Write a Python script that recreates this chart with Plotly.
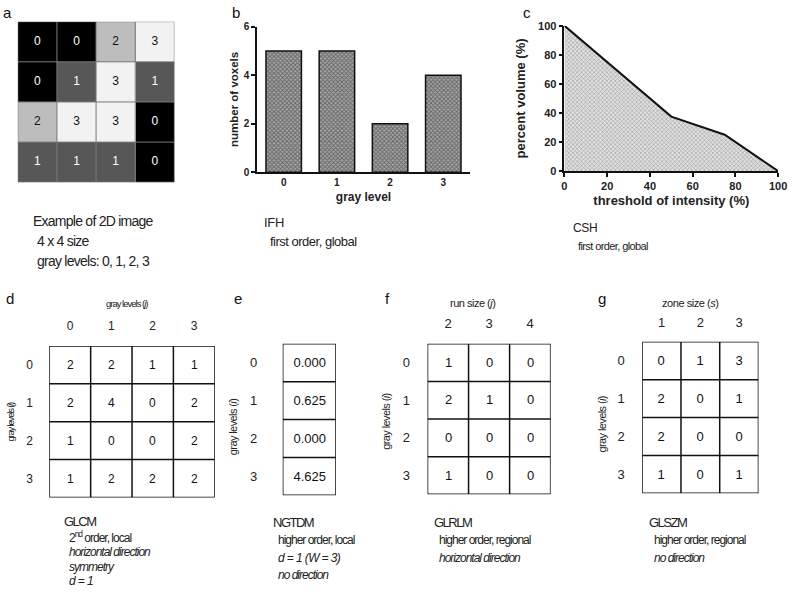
import plotly.graph_objects as go

# ---------------- data ----------------
# panel a: 4x4 example image (rows top -> bottom)
IMAGE = [[0, 0, 2, 3],
         [0, 1, 3, 1],
         [2, 3, 3, 0],
         [1, 1, 1, 0]]
GRAY_COLORS = ['#000000', '#575757', '#bdbdbd', '#f2f2f2']

# panel b: intensity frequency histogram
IFH_LEVELS = [0, 1, 2, 3]
IFH_COUNTS = [5, 5, 2, 4]

# panel c: cumulative intensity-volume histogram
CSH_THRESHOLD = [0, 25, 50, 75, 100]
CSH_VOLUME = [100, 68.75, 37.5, 25, 0]

# panel d: GLCM
GLCM_ROWS = ['0', '1', '2', '3']
GLCM_COLS = ['0', '1', '2', '3']
GLCM = [[2, 2, 1, 1],
        [2, 4, 0, 2],
        [1, 0, 0, 2],
        [1, 2, 2, 2]]

# panel e: NGTDM
NGTDM_ROWS = ['0', '1', '2', '3']
NGTDM = [['0.000'], ['0.625'], ['0.000'], ['4.625']]

# panel f: GLRLM
GLRLM_ROWS = ['0', '1', '2', '3']
GLRLM_COLS = ['2', '3', '4']
GLRLM = [[1, 0, 0],
         [2, 1, 0],
         [0, 0, 0],
         [1, 0, 0]]

# panel g: GLSZM
GLSZM_ROWS = ['0', '1', '2', '3']
GLSZM_COLS = ['1', '2', '3']
GLSZM = [[0, 1, 3],
         [2, 0, 1],
         [2, 0, 0],
         [1, 0, 1]]

# ---------------- helpers ----------------
W, H = 798, 592
FONT = 'Liberation Sans, Arial, sans-serif'
# vertical correction measured for the page capture (top offset, scale)
Y_OFF, Y_SCALE = 8.5, 0.97


def Y(v):
    return (v - Y_OFF) / Y_SCALE


def xd(a, b):
    return [a / W, b / W]


def yd(top, bottom):
    return [1 - Y(bottom) / H, 1 - Y(top) / H]


def sp(text, ls):
    return f'<span style="letter-spacing:{ls}px">{text}</span>'


fig = go.Figure()
shapes = []
annotations = []


def note(x, y, text, size, ls=0.0, italic=False, anchor='left', angle=0, color='#222'):
    t = sp(text, ls) if ls else text
    if italic:
        t = f'<i>{t}</i>'
    yy = min(max(Y(y), size * 0.45), H - size * 0.45)
    annotations.append(dict(x=x / W, y=1 - yy / H, xref='paper', yref='paper',
                            text=t, showarrow=False, xanchor=anchor, yanchor='middle',
                            textangle=angle, borderpad=0,
                            font=dict(family=FONT, size=size, color=color)))


def grid(ax, nrows, ncols, color, width):
    xr, yr = 'x' + ax, 'y' + ax
    for k in range(ncols + 1):
        shapes.append(dict(type='line', xref=xr, yref=yr, x0=k - 0.5, x1=k - 0.5,
                           y0=-0.5, y1=nrows - 0.5, line=dict(color=color, width=width),
                           layer='above'))
    for k in range(nrows + 1):
        shapes.append(dict(type='line', xref=xr, yref=yr, y0=k - 0.5, y1=k - 0.5,
                           x0=-0.5, x1=ncols - 0.5, line=dict(color=color, width=width),
                           layer='above'))


layout_axes = {}

# ---------------- panel a ----------------
nr, nc = len(IMAGE), len(IMAGE[0])
cs = []
for i, c in enumerate(GRAY_COLORS):
    cs += [[i / len(GRAY_COLORS), c], [(i + 1) / len(GRAY_COLORS), c]]
fig.add_trace(go.Heatmap(z=IMAGE, x=list(range(nc)), y=list(range(nr)),
                         colorscale=cs, zmin=-0.5, zmax=len(GRAY_COLORS) - 0.5,
                         showscale=False, hoverinfo='skip', xaxis='x', yaxis='y'))
cx, cy, ct, cc = [], [], [], []
for r in range(nr):
    for c in range(nc):
        v = IMAGE[r][c]
        cx.append(c)
        cy.append(r)
        ct.append(str(v))
        cc.append('#ffffff' if v < 2 else '#111111')
fig.add_trace(go.Scatter(x=cx, y=cy, text=ct, mode='text', xaxis='x', yaxis='y',
                         textfont=dict(family=FONT, size=12, color=cc), hoverinfo='skip'))
layout_axes['xaxis'] = dict(domain=xd(15, 174), range=[-0.5, nc - 0.5], visible=False)
layout_axes['yaxis'] = dict(domain=yd(24, 183), range=[nr - 0.5, -0.5], visible=False)
grid('', nr, nc, '#7a7a7a', 1)
note(5, 12, 'a', 15, anchor='center', color='#111')
note(29, 221, 'Example of 2D image', 14, -0.75)
note(34, 241, '4 x 4 size', 14, -0.75)
note(34, 261, 'gray levels: 0, 1, 2, 3', 14, -0.75)

# ---------------- panel b ----------------
fig.add_trace(go.Bar(x=IFH_LEVELS, y=IFH_COUNTS, width=0.667, xaxis='x2', yaxis='y2',
                     marker=dict(color='#8c8c8c', line=dict(color='#111', width=1.5),
                                 pattern=dict(shape='x', size=3, solidity=0.5,
                                              fgcolor='#222', bgcolor='#a6a6a6')),
                     hoverinfo='skip'))
bold = dict(family=FONT, weight='bold', color='#222')
layout_axes['xaxis2'] = dict(domain=xd(258, 474), range=[-0.5, 3.5], anchor='y2',
                             tickvals=IFH_LEVELS, ticks='', showgrid=False, zeroline=False,
                             showline=True, linecolor='#111', linewidth=1.5,
                             tickfont=dict(bold, size=10),
                             title=dict(text='gray level', font=dict(bold, size=12), standoff=6))
layout_axes['yaxis2'] = dict(domain=yd(29, 173), range=[0, 6], dtick=2, anchor='x2',
                             ticks='outside', ticklen=4, tickwidth=1.5, tickcolor='#111',
                             showgrid=False, zeroline=False,
                             showline=True, linecolor='#111', linewidth=1.5,
                             tickfont=dict(bold, size=10),
                             title=dict(text='number of voxels', font=dict(bold, size=11.5), standoff=3))
note(237, 12, 'b', 15, anchor='center', color='#111')
note(264, 223, 'IFH', 13, -0.3)
note(270, 242, 'first order, global', 13, -0.5)

# ---------------- panel c ----------------
fig.add_trace(go.Scatter(x=CSH_THRESHOLD, y=CSH_VOLUME, mode='lines', xaxis='x3', yaxis='y3',
                         line=dict(color='#111', width=2), fill='tozeroy',
                         fillcolor='#ffffff',
                         fillpattern=dict(shape='x', size=3, solidity=0.35,
                                          fgcolor='#555', bgcolor='#e0e0e0'),
                         hoverinfo='skip'))
layout_axes['xaxis3'] = dict(domain=xd(570, 787), range=[0, 100], dtick=20, anchor='y3',
                             ticks='outside', ticklen=4, tickwidth=1.5, tickcolor='#111',
                             showgrid=False, zeroline=False, ticklabeloverflow='allow',
                             showline=True, linecolor='#111', linewidth=1.5,
                             tickfont=dict(bold, size=11),
                             title=dict(text='threshold of intensity (%)', font=dict(bold, size=13), standoff=5))
layout_axes['yaxis3'] = dict(domain=yd(28, 172), range=[0, 100], dtick=20, anchor='x3',
                             ticks='outside', ticklen=4, tickwidth=1.5, tickcolor='#111',
                             showgrid=False, zeroline=False,
                             showline=True, linecolor='#111', linewidth=1.5,
                             tickfont=dict(bold, size=11),
                             title=dict(text='percent volume (%)', font=dict(bold, size=13), standoff=10))
note(532, 12, 'c', 15, anchor='center', color='#111')
note(578, 228, 'CSH', 12, -0.3)
note(583, 246, 'first order, global', 11, -0.6)


# ---------------- tables ----------------
def table(n, values, rows, cols, xdom, ydom, vsize, lsize, xtl, ytl):
    nrow, ncol = len(values), len(values[0])
    fig.add_trace(go.Heatmap(z=[[0] * ncol for _ in range(nrow)],
                             x=list(range(ncol)), y=list(range(nrow)),
                             text=[[str(v) for v in r] for r in values], texttemplate='%{text}',
                             textfont=dict(family=FONT, size=vsize, color='#111'),
                             colorscale=[[0, '#ffffff'], [1, '#ffffff']], showscale=False,
                             hoverinfo='skip', xaxis='x' + str(n), yaxis='y' + str(n)))
    xa = dict(domain=xdom, range=[-0.5, ncol - 0.5], anchor='y' + str(n), side='top',
              showgrid=False, zeroline=False, showline=False,
              tickfont=dict(family=FONT, size=lsize, color='#222'))
    if cols is None:
        xa['showticklabels'] = False
    else:
        xa.update(tickvals=list(range(ncol)), ticktext=cols, ticks='outside', ticklen=xtl,
                  tickcolor='rgba(0,0,0,0)')
    ya = dict(domain=ydom, range=[nrow - 0.5, -0.5], anchor='x' + str(n),
              showgrid=False, zeroline=False, showline=False,
              tickvals=list(range(nrow)), ticktext=rows, ticks='outside', ticklen=ytl,
              tickcolor='rgba(0,0,0,0)',
              tickfont=dict(family=FONT, size=lsize, color='#222'))
    layout_axes['xaxis' + str(n)] = xa
    layout_axes['yaxis' + str(n)] = ya
    grid(str(n), nrow, ncol, '#111', 1.5)


# d GLCM
table(4, GLCM, GLCM_ROWS, GLCM_COLS, xd(47, 215), yd(345, 495), 12, 12, 10, 13)
note(7, 298, 'd', 15, anchor='center', color='#111')
note(126, 303, 'gray levels (<i>j</i>)', 9.5, -1.0, anchor='center')
note(8, 420, 'gray levels (<i>i</i>)', 9.5, -1.2, anchor='center', angle=-90)
note(61, 519, 'GLCM', 13, -1.5)
note(66, 534.5, '2<sup>nd</sup> order, local', 12, -1.0)
note(66, 549.5, 'horizontal direction', 12, -1.0, italic=True)
note(66, 564, 'symmetry', 12, -1.0, italic=True)
note(66, 580, 'd = 1', 12, -0.6, italic=True)

# e NGTDM
table(5, NGTDM, NGTDM_ROWS, None, xd(284, 338), yd(343, 493), 13, 13, 0, 22)
note(239, 298, 'e', 15, anchor='center', color='#111')
note(233, 425, 'gray levels (<i>i</i>)', 11, -0.6, anchor='center', angle=-90)
note(273, 520, 'NGTDM', 13, -1.5)
note(278, 537, 'higher order, local', 12, -1.0)
note(278, 555, 'd = 1 (W = 3)', 12, -0.6, italic=True)
note(278, 572, 'no direction', 12, -1.0, italic=True)

# f GLRLM
table(6, GLRLM, GLRLM_ROWS, GLRLM_COLS, xd(431, 556), yd(343, 492), 13, 13, 10, 14)
note(390, 298, 'f', 15, anchor='center', color='#111')
note(477, 303, 'run size (<i>j</i>)', 11, -0.5, anchor='center')
note(388, 420, 'gray levels (<i>i</i>)', 11, -0.6, anchor='center', angle=-90)
note(437, 520, 'GLRLM', 13, -1.5)
note(442, 537, 'higher order, regional', 12, -1.0)
note(442, 555, 'horizontal direction', 12, -1.0, italic=True)

# g GLSZM
table(7, GLSZM, GLSZM_ROWS, GLSZM_COLS, xd(649, 767), yd(341, 491), 13, 13, 9, 14)
note(608, 298, 'g', 15, anchor='center', color='#111')
note(698, 303, 'zone size (<i>s</i>)', 11, -0.45, anchor='center')
note(608, 423, 'gray levels (<i>i</i>)', 11, -0.6, anchor='center', angle=-90)
note(655, 520, 'GLSZM', 13, -1.5)
note(660, 537, 'higher order, regional', 12, -1.0)
note(660, 555, 'no direction', 12, -1.0, italic=True)

fig.update_layout(width=W, height=H, autosize=False,
                  margin=dict(l=0, r=0, t=0, b=0),
                  paper_bgcolor='white', plot_bgcolor='white',
                  showlegend=False, font=dict(family=FONT, color='#222'),
                  shapes=shapes, annotations=annotations, **layout_axes)

PAGE_FIX = (
    "var s=document.createElement('style');"
    "s.textContent='html,body{margin:0 !important;padding:0 !important;"
    "overflow:hidden !important;width:798px !important;height:592px !important;}';"
    "document.head.appendChild(s);"
    "var g=document.getElementById('{plot_id}');"
    "if(g){g.style.position='fixed';g.style.left='0px';g.style.top='0px';}"
)

fig.write_html('out.html', config={'displayModeBar': False}, post_script=PAGE_FIX)
